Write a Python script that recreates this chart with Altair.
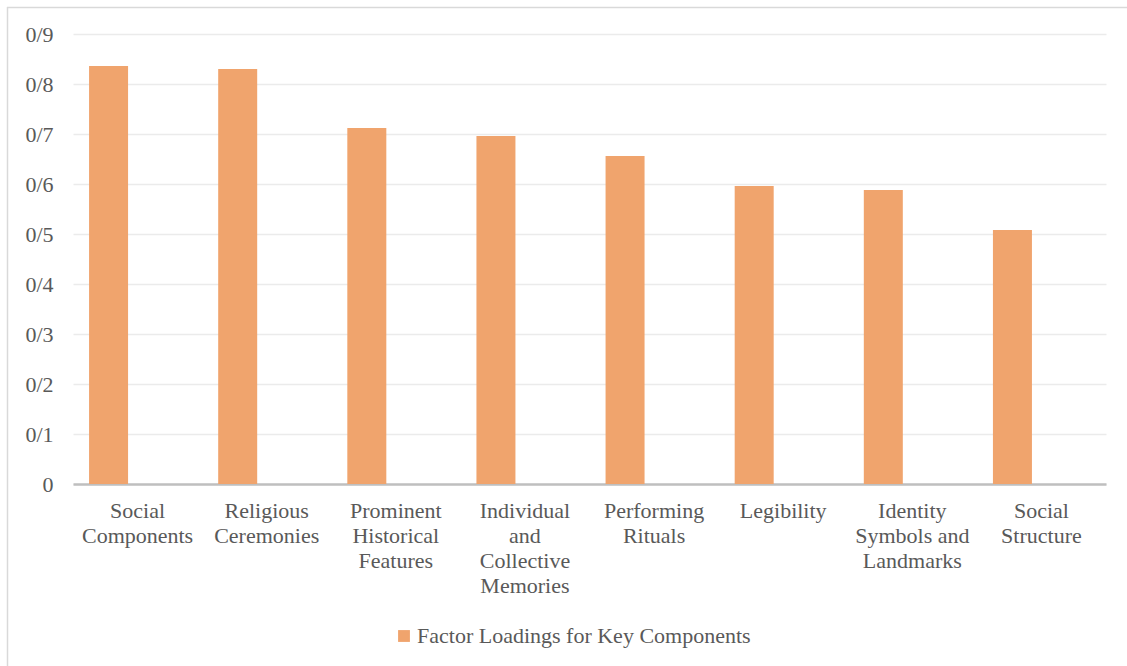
import altair as alt
import pandas as pd

categories = [
    "Social\nComponents",
    "Religious\nCeremonies",
    "Prominent\nHistorical\nFeatures",
    "Individual\nand\nCollective\nMemories",
    "Performing\nRituals",
    "Legibility",
    "Identity\nSymbols and\nLandmarks",
    "Social\nStructure",
]
loadings = [0.836, 0.830, 0.712, 0.696, 0.656, 0.596, 0.588, 0.508]
series_name = "Factor Loadings for Key Components"

df = pd.DataFrame({"category": categories, "value": loadings, "series": series_name})

FONT = "Liberation Serif"
GREY = "#595959"
BAR = "#F0A46D"

bars = alt.Chart(df).mark_bar(width=39, xOffset=-29, color=BAR).encode(
    x=alt.X(
        "category:N",
        sort=categories,
        title=None,
        scale=alt.Scale(paddingInner=0, paddingOuter=0),
        axis=alt.Axis(
            labelAngle=0,
            labelExpr="split(datum.label, '\\n')",
            labelFont=FONT,
            labelFontSize=22,
            labelColor=GREY,
            labelLineHeight=25,
            labelPadding=16,
            labelBaseline="top",
            labelLimit=0,
            ticks=False,
            domainColor="#BFBFBF",
            domainWidth=2.5,
            grid=False,
        ),
    ),
    y=alt.Y(
        "value:Q",
        title=None,
        scale=alt.Scale(domain=[0, 0.9], nice=False),
        axis=alt.Axis(
            values=[0, 0.1, 0.2, 0.3, 0.4, 0.5, 0.6, 0.7, 0.8, 0.9],
            labelExpr="datum.value == 0 ? '0' : '0/' + round(datum.value * 10)",
            labelFont=FONT,
            labelFontSize=22,
            labelColor=GREY,
            labelPadding=20,
            ticks=False,
            domain=False,
            gridColor="#EBEBEB",
            gridWidth=1.5,
        ),
    ),
    fill=alt.Fill(
        "series:N",
        scale=alt.Scale(range=[BAR]),
        legend=alt.Legend(
            title=None,
            orient="none",
            legendX=320,
            legendY=591,
            symbolType="square",
            symbolSize=140,
            symbolStrokeWidth=0,
            labelFont=FONT,
            labelFontSize=22,
            labelColor=GREY,
            labelOffset=2,
            labelLimit=0,
        ),
    ),
)

border_df = pd.DataFrame({"k": [0]})
left_border = alt.Chart(border_df).mark_rule(color="#D9D9D9", strokeWidth=1.5).encode(
    x=alt.value(-65.5), y=alt.value(-27), y2=alt.value(640)
)
top_border = alt.Chart(border_df).mark_rule(color="#D9D9D9", strokeWidth=1.5).encode(
    x=alt.value(-66), x2=alt.value(1060), y=alt.value(-26.5)
)

chart = (
    alt.layer(bars, left_border, top_border)
    .properties(
        width=1033,
        height=450,
        padding={"left": 73, "top": 34, "right": 21, "bottom": 182},
        autosize=alt.AutoSizeParams(type="none"),
        background="white",
    )
    .configure_view(stroke=None)
)

chart.save("out.html", embed_options={"renderer": "svg", "actions": False})
